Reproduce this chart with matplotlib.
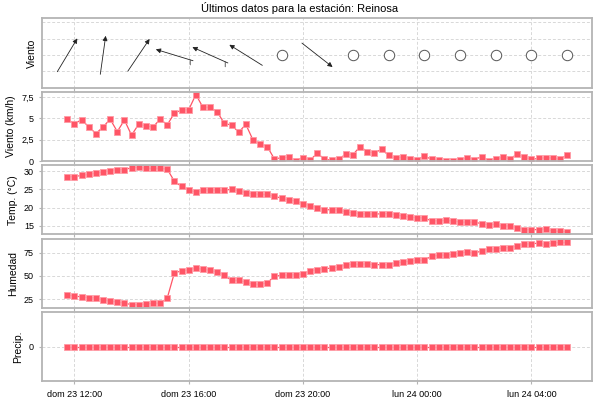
import math
import pandas as pd
import matplotlib
matplotlib.use("Agg")
import matplotlib.pyplot as plt
import matplotlib.dates as mdates
import matplotlib.transforms as mtransforms

plt.rcParams['font.family'] = ['Liberation Sans', 'DejaVu Sans']

# Datos cada 15 minutos
horas = pd.date_range("2023-07-23 11:45", periods=71, freq="15min")

viento_kmh = [4.87, 4.36, 4.83, 4.0, 3.22, 3.97, 4.9, 3.45, 4.79, 3.02,
              4.32, 4.12, 3.97, 4.9, 4.24, 5.6, 5.97, 6.0, 7.77, 6.28,
              6.28, 5.73, 4.4, 4.2, 3.38, 4.28, 2.47, 2.0, 1.69, 0.24,
              0.39, 0.43, 0.04, 0.39, 0.12, 0.9, 0.24, 0.08, 0.2, 0.82,
              0.75, 1.69, 1.1, 0.94, 1.37, 0.67, 0.31, 0.51, 0.27, 0.12,
              0.59, 0.2, 0.08, 0.0, 0.04, 0.12, 0.39, 0.16, 0.51, 0.04,
              0.2, 0.47, 0.24, 0.82, 0.43, 0.2, 0.31, 0.39, 0.35, 0.2,
              0.75]

temperatura = [28.4, 28.5, 28.8, 29.1, 29.4, 29.8, 30.1, 30.4, 30.4, 30.9,
               31.0, 30.8, 30.7, 30.8, 30.5, 27.2, 25.8, 24.9, 24.2, 24.8,
               24.9, 24.7, 24.8, 25.0, 24.6, 24.1, 23.8, 23.6, 23.6, 23.1,
               22.6, 22.1, 21.8, 21.1, 20.5, 20.0, 19.5, 19.4, 19.4, 18.8,
               18.6, 18.4, 18.2, 18.3, 18.3, 18.4, 18.1, 17.7, 17.4, 17.3,
               17.2, 16.4, 16.4, 16.5, 16.4, 16.1, 16.0, 16.1, 15.6, 15.3,
               15.5, 15.0, 15.0, 14.5, 14.0, 14.0, 14.0, 14.2, 13.6, 13.5,
               13.4]

humedad = [29.6, 28.5, 27.5, 26.8, 26.4, 24.3, 22.9, 22.2, 20.7, 19.3,
           19.0, 20.0, 20.7, 20.7, 26.4, 53.4, 55.5, 56.6, 58.3, 57.3,
           55.9, 54.4, 50.9, 45.2, 45.2, 43.4, 41.3, 41.0, 42.7, 49.5,
           50.9, 50.9, 51.3, 52.3, 55.5, 56.9, 58.0, 58.3, 59.8, 61.9,
           62.6, 62.6, 62.9, 62.2, 62.2, 61.9, 64.0, 65.1, 65.8, 66.8,
           67.2, 71.1, 72.2, 72.5, 73.2, 74.6, 75.7, 74.3, 77.1, 78.9,
           78.9, 80.3, 80.3, 82.4, 84.2, 84.6, 85.3, 83.9, 85.6, 86.0,
           86.0]

precipitacion = [0.0] * 71

# Direccion (rumbo hacia el que apunta la flecha, grados) cada 5 datos; None = calma
rumbo = [31, 8, 34, 287, 294, 302, None, 128, None, None, None, None, None, None, None]
racha = [False, False, False, True, True, False, False, False,
         False, False, False, False, False, False, False]

ROJO = "#ff5566"
BORDE = "#b4b4b4"


def formato_fecha(x, pos=None):
    d = mdates.num2date(x)
    dias = ["lun", "mar", "mié", "jue", "vie", "sáb", "dom"]
    return "%s %d %s" % (dias[d.weekday()], d.day, d.strftime("%H:%M"))


fig, axes = plt.subplots(5, 1, figsize=(6, 4), dpi=100, sharex=True)
fig.subplots_adjust(left=0.0705, right=0.987, top=0.954, bottom=0.047, hspace=0.06)
fig.suptitle("Últimos datos para la estación: Reinosa", fontsize=8, y=0.995)

for ax in axes:
    for s in ax.spines.values():
        s.set_color(BORDE)
        s.set_linewidth(1.3)
    ax.tick_params(colors=BORDE, labelcolor="black", labelsize=6.5, length=2.5, width=0.8)
    ax.grid(True, color="#d8d8d8", linestyle=(0, (3, 2)), linewidth=0.7)
    ax.set_axisbelow(True)

estilo = dict(color=ROJO, marker="s", markersize=5, markeredgecolor="#ff9aa4",
              markeredgewidth=0.6, linewidth=0.9)

# 1. Direccion del viento
ax = axes[0]
ax.plot(horas, [0] * 71, alpha=0)
ax.set_ylim(-2.0, 2.25)
ax.set_yticks([-1, 0, 1, 2])
ax.tick_params(axis="y", labelleft=False, length=0)
ax.set_ylabel("Viento", fontsize=7.5)
media = 14 / 72.0
for k, r in enumerate(rumbo):
    t = mdates.date2num(horas[k * 5])
    if r is None:
        ax.plot(t, 0, marker="o", markersize=7.5, markerfacecolor="white",
                markeredgecolor="#555555", markeredgewidth=0.7)
        continue
    a = math.radians(90 - r)
    dx, dy = math.cos(a) * media, math.sin(a) * media
    punta = ax.transData + mtransforms.ScaledTranslation(dx, dy, fig.dpi_scale_trans)
    cola = ax.transData + mtransforms.ScaledTranslation(-dx, -dy, fig.dpi_scale_trans)
    ax.annotate("", xy=(t, 0), xycoords=punta, xytext=(t, 0), textcoords=cola,
                arrowprops=dict(arrowstyle="-|>", color="#222222", lw=0.6,
                                mutation_scale=7, shrinkA=0, shrinkB=0))
    if racha[k]:
        bx, by = -dx * 0.85, -dy * 0.85
        ini = ax.transData + mtransforms.ScaledTranslation(bx, by, fig.dpi_scale_trans)
        fin = ax.transData + mtransforms.ScaledTranslation(bx, by - 0.05, fig.dpi_scale_trans)
        ax.annotate("", xy=(t, 0), xycoords=fin, xytext=(t, 0), textcoords=ini,
                    arrowprops=dict(arrowstyle="-", color="#444444", lw=0.6,
                                    shrinkA=0, shrinkB=0))

# 2. Velocidad del viento
ax = axes[1]
ax.plot(horas, viento_kmh, **estilo)
ax.set_ylim(0, 8.1)
ax.set_yticks([0, 2.5, 5, 7.5])
ax.set_yticklabels(["0", "2,5", "5", "7,5"])
ax.set_ylabel("Viento (km/h)", fontsize=7.5)

# 3. Temperatura
ax = axes[2]
ax.plot(horas, temperatura, **estilo)
ax.set_ylim(12.7, 31.6)
ax.set_yticks([15, 20, 25, 30])
ax.set_ylabel("Temp. (°C)", fontsize=7.5)

# 4. Humedad
ax = axes[3]
ax.plot(horas, humedad, **estilo)
ax.set_ylim(15.8, 90.2)
ax.set_yticks([25, 50, 75])
ax.set_ylabel("Humedad", fontsize=7.5)

# 5. Precipitacion
ax = axes[4]
ax.plot(horas, precipitacion, **estilo)
ax.set_ylim(-1, 1)
ax.set_yticks([0])
ax.set_ylabel("Precip.", fontsize=7.5)

ax.xaxis.set_major_locator(mdates.HourLocator(byhour=[0, 4, 8, 12, 16, 20]))
ax.xaxis.set_major_formatter(plt.FuncFormatter(formato_fecha))
ax.tick_params(axis="x", labelsize=6.5)

fig.savefig("out.png", dpi=100)
